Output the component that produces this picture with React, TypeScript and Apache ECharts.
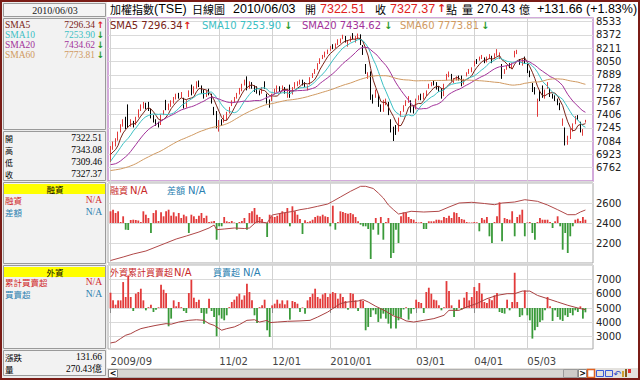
import React, { useEffect, useRef } from 'react';
import * as echarts from 'echarts';

// ---------- data ----------
const priorCloses = [
  6780, 6820, 6890, 6910, 6850, 6760, 6700, 6650, 6580, 6520, 6470, 6430, 6480, 6520, 6560, 6432,
  6400, 6460, 6520, 6480, 6420, 6380, 6410, 6480, 6560, 6620, 6700, 6750, 6810, 6790, 6860, 6900, 6920, 6880, 6940, 6960, 6990, 7010,
  7040, 7020, 6980, 6960, 6900, 6850, 6820, 6760, 6700, 6600, 6480, 6560, 6620, 6700, 6760, 6820, 6880, 6900, 6960, 6920, 6826,
];

const opens = [
  6840, 7000, 7040, 7110, 7200, 7280, 7360, 7490, 7280, 7300,
  7300, 7380, 7470, 7500, 7530, 7540, 7460, 7370, 7320, 7300,
  7290, 7420, 7520, 7470, 7520, 7560, 7610, 7640, 7630, 7600,
  7500, 7630, 7760, 7680, 7740, 7780, 7740, 7690, 7640, 7700,
  7640, 7480, 7440, 7240, 7320, 7330, 7360, 7440, 7520, 7570,
  7610, 7670, 7700, 7780, 7830, 7740, 7790, 7740, 7720, 7690,
  7680, 7780, 7650, 7570, 7580, 7670, 7700, 7720, 7710, 7720,
  7650, 7750, 7660, 7740, 7760, 7790, 7800, 7790, 7710, 7780,
  7860, 7920, 7960, 8030, 8090, 8110, 8160, 8200, 8230, 8220,
  8260, 8290, 8330, 8340, 8250, 8300, 8350, 8300, 8350, 8375,
  8240, 8010, 7850, 7920, 7640, 7625, 7640, 7500, 7460, 7560,
  7550, 7340, 7230, 7260, 7220, 7400, 7460, 7530, 7560, 7570,
  7500, 7480, 7600, 7630, 7600, 7640, 7730, 7760, 7800, 7790,
  7730, 7720, 7640, 7830, 7870, 7880, 7810, 7830, 7860, 7860,
  7780, 7880, 7910, 7940, 8000, 8060, 8070, 8090, 8090, 8050,
  8100, 8100, 8090, 8140, 8100, 8010, 7910, 7960, 8010, 7990,
  8110, 8150, 8070, 8020, 8080, 8000, 7920, 7780, 7720, 7402,
  7690, 7750, 7620, 7730, 7720, 7650, 7630, 7580, 7530, 7290,
  7240, 7060, 7180, 7250, 7300, 7380, 7300, 7180, 7322.51,
];
const highs = [
  7025, 7080, 7120, 7200, 7290, 7350, 7380, 7530, 7350, 7330,
  7380, 7470, 7530, 7560, 7550, 7560, 7480, 7400, 7350, 7320,
  7410, 7460, 7585, 7540, 7580, 7620, 7660, 7670, 7680, 7610,
  7580, 7700, 7770, 7750, 7810, 7820, 7760, 7710, 7700, 7720,
  7660, 7500, 7450, 7340, 7350, 7400, 7440, 7500, 7580, 7620,
  7670, 7730, 7780, 7830, 7870, 7810, 7800, 7760, 7750, 7700,
  7740, 7810, 7660, 7590, 7660, 7720, 7760, 7750, 7760, 7740,
  7720, 7770, 7740, 7800, 7810, 7830, 7830, 7800, 7760, 7860,
  7910, 7960, 8030, 8090, 8130, 8170, 8195, 8240, 8260, 8270,
  8320, 8330, 8375, 8360, 8310, 8355, 8395, 8360, 8390, 8380,
  8250, 8020, 7920, 7930, 7650, 7710, 7650, 7530, 7585, 7600,
  7560, 7350, 7260, 7280, 7370, 7450, 7520, 7580, 7630, 7580,
  7520, 7600, 7640, 7660, 7670, 7700, 7780, 7800, 7820, 7800,
  7750, 7730, 7780, 7900, 7929, 7900, 7850, 7870, 7880, 7880,
  7840, 7920, 7960, 7980, 8060, 8080, 8110, 8130, 8100, 8110,
  8140, 8120, 8150, 8200, 8160, 8020, 7960, 8000, 8030, 8030,
  8180, 8192, 8080, 8080, 8110, 8020, 7940, 7790, 7740, 7600,
  7700, 7760, 7710, 7800, 7730, 7660, 7640, 7600, 7550, 7360,
  7250, 7150, 7240, 7300, 7390, 7400, 7320, 7230, 7343.08,
];
const lows = [
  6830, 6980, 7020, 7090, 7190, 7260, 7230, 7250, 7260, 7250,
  7280, 7370, 7450, 7480, 7470, 7450, 7360, 7310, 7270, 7250,
  7280, 7400, 7460, 7460, 7500, 7540, 7590, 7600, 7610, 7480,
  7490, 7620, 7640, 7660, 7720, 7740, 7660, 7600, 7620, 7640,
  7540, 7400, 7240, 7200, 7270, 7310, 7340, 7420, 7510, 7550,
  7600, 7650, 7690, 7760, 7700, 7720, 7720, 7680, 7660, 7640,
  7660, 7720, 7540, 7490, 7570, 7650, 7680, 7680, 7690, 7660,
  7610, 7610, 7650, 7720, 7750, 7770, 7760, 7740, 7700, 7770,
  7850, 7900, 7950, 8020, 8080, 8100, 8140, 8180, 8200, 8210,
  8250, 8270, 8320, 8280, 8230, 8290, 8320, 8280, 8330, 8250,
  8130, 7900, 7840, 7585, 7540, 7610, 7500, 7440, 7440, 7520,
  7400, 7190, 7086, 7160, 7200, 7380, 7440, 7510, 7550, 7430,
  7420, 7470, 7580, 7580, 7590, 7630, 7720, 7750, 7760, 7710,
  7680, 7600, 7630, 7820, 7860, 7810, 7790, 7820, 7820, 7750,
  7770, 7870, 7900, 7920, 7990, 8020, 8060, 8080, 8030, 8040,
  8080, 8030, 8080, 8120, 8080, 7840, 7900, 7950, 7970, 7970,
  8100, 8140, 8010, 8000, 8020, 7910, 7860, 7680, 7650, 7380,
  7570, 7610, 7600, 7720, 7620, 7600, 7570, 7520, 7460, 7270,
  7032, 7040, 7110, 7200, 7290, 7340, 7190, 7150, 7309.46,
];
const closes = [
  7010, 7050, 7100, 7180, 7260, 7330, 7250, 7270, 7330, 7290,
  7360, 7460, 7500, 7520, 7500, 7470, 7380, 7330, 7300, 7270,
  7400, 7440, 7470, 7520, 7560, 7600, 7630, 7610, 7650, 7490,
  7560, 7690, 7650, 7720, 7790, 7760, 7680, 7610, 7680, 7660,
  7550, 7420, 7250, 7330, 7300, 7380, 7420, 7480, 7560, 7600,
  7660, 7710, 7760, 7810, 7720, 7790, 7750, 7700, 7680, 7660,
  7720, 7730, 7560, 7510, 7650, 7700, 7740, 7700, 7740, 7680,
  7700, 7630, 7720, 7780, 7800, 7810, 7780, 7750, 7750, 7850,
  7900, 7940, 8020, 8080, 8110, 8150, 8188, 8207, 8211, 8250,
  8290, 8300, 8350, 8300, 8290, 8340, 8330, 8340, 8370, 8260,
  8140, 7920, 7900, 7600, 7560, 7700, 7520, 7450, 7530, 7580,
  7420, 7210, 7180, 7190, 7360, 7430, 7500, 7560, 7620, 7450,
  7440, 7585, 7620, 7600, 7650, 7680, 7760, 7790, 7780, 7720,
  7700, 7620, 7760, 7880, 7910, 7820, 7830, 7850, 7830, 7760,
  7820, 7910, 7940, 7960, 8040, 8040, 8090, 8110, 8040, 8080,
  8120, 8050, 8140, 8160, 8140, 7860, 7950, 7980, 7990, 8010,
  8160, 8170, 8030, 8060, 8040, 7920, 7880, 7700, 7676, 7580,
  7590, 7630, 7700, 7780, 7640, 7620, 7590, 7540, 7480, 7345,
  7100, 7130, 7200, 7282, 7374, 7373, 7211.6, 7195.71, 7327.37,
];

// 融資 daily change bars (relative to the 2400 base line)
const marginBars = [
  117, 133, 100, 117, 10, 67, -67, -70, 30, 33,
  30, 25, 10, 117, 83, 50, -100, 100, 127, 20,
  107, 67, 117, 133, 73, 107, 67, 100, 50, 83,
  67, -100, 83, 67, 40, 73, 100, 50, 73, 10,
  15, 20, -167, -33, -33, 60, 17, 10, 20, 5,
  -67, 10, 20, 50, -67, 100, 117, 150, 83, 60,
  40, 10, -140, 83, 67, 60, 73, 100, 117, 100,
  150, -33, 167, 117, 83, 40, -110, 27, 10, 17,
  33, 60, 73, 67, 83, 67, 60, -33, 173, -67,
  10, 117, 110, 100, 93, 100, 87, 60, 17, -17,
  -33, -33, -60, -360, -67, 50, -117, 60, -167, 10,
  50, -350, -300, -67, -200, 67, 107, 100, 60, 40,
  33, 10, 5, 10, -60, -60, 17, 17, 17, 33,
  33, 27, 60, 50, 73, 50, 107, 100, 60, 40,
  33, 10, 5, 5, 10, 7, -83, 50, 33, 60,
  -133, -200, 10, 67, 207, -183, 50, 40, 33, 117,
  -133, 60, 83, 133, -133, 5, 10, -100, -167, 10,
  50, 33, 33, 33, 10, -50, 17, 67, -33, -267,
  -100, -300, -133, -33, 33, 43, 20, 60, 33,
];
// 融資 balance line: [trading-day index, value]
const marginLine: [number, number][] = [
  [0, 2025], [5, 2060], [9, 2090], [14, 2120], [18, 2160], [22, 2200], [26, 2240], [30, 2270],
  [35, 2310], [39, 2350], [41, 2380], [42, 2333], [45, 2340], [49, 2350], [53, 2345], [55, 2350],
  [58, 2417], [62, 2400], [64, 2480], [68, 2500], [72, 2515], [75, 2533], [78, 2545], [82, 2567],
  [86, 2590], [88, 2617], [91, 2660], [95, 2717], [99, 2767], [101, 2767], [104, 2745], [106, 2700],
  [108, 2650], [110, 2580], [112, 2533], [114, 2490], [116, 2500], [119, 2517], [124, 2510], [130, 2517],
  [134, 2560], [138, 2600], [143, 2607], [148, 2595], [152, 2583], [155, 2600], [160, 2610], [164, 2633],
  [169, 2617], [173, 2580], [177, 2533], [181, 2483], [184, 2483], [186, 2510], [188, 2530],
];

// 外資 daily net buy/sell bars (relative to the 5000 base line)
const foreignBars = [
  1067, 534, 232, 534, 534, 1810, 766, 2274, 766, -209,
  998, 1114, 1346, 534, -162, 60, 232, -278, -116, 50,
  1624, 1276, 1044, -1276, -742, 534, 120, 418, 60, -209,
  -348, 1044, 1972, 719, 418, 580, -348, -1090, -394, 650,
  -209, -626, -1972, -510, -742, -858, -510, 60, 418, 580,
  812, 998, 580, 882, 1694, 1114, 534, -510, -1044, 60,
  186, 580, -1554, -2018, 186, 302, 580, 302, 534, 255,
  534, -812, 487, 418, 302, -278, 40, -394, 534, 766,
  998, 1346, 766, 650, 951, 1044, 766, 998, 1114, 1044,
  650, 998, 766, 487, -116, 1044, 998, 534, -209, 580,
  487, -1554, -1322, -626, -162, -440, -974, -742, -394, -742,
  -1090, -1438, -510, -1438, -858, -672, -100, 50, -812, -394,
  -80, 580, 418, 348, -348, 1114, 1415, 998, 580, 534,
  186, -162, 60, 1879, 1183, 186, -626, -210, 580, -116,
  719, 1114, 534, 766, 1462, 1183, 1740, 998, 418, 350,
  650, 534, 882, 1044, -278, -348, -394, 580, -162, 418,
  2459, 418, -626, -510, 1230, -510, -858, -2134, -1554, -1322,
  -974, -858, -162, 766, 116, -905, -162, -626, -812, -905,
  -510, -626, -348, -510, -162, -278, 116, -742, -300,
];
// 外資累計買賣超 line: [trading-day index, value]
const foreignLine: [number, number][] = [
  [0, 2560], [2, 2630], [4, 2870], [6, 3100], [8, 3210], [10, 3400], [12, 3560], [15, 3680],
  [18, 3790], [20, 3850], [22, 3910], [24, 3870], [27, 4020], [31, 4140], [34, 4180], [37, 4140],
  [39, 3910], [41, 3790], [44, 3450], [46, 3560], [49, 3680], [51, 3840], [54, 4140], [57, 4180],
  [59, 4020], [62, 4140], [63, 3980], [66, 4020], [70, 4070], [75, 4100], [79, 4140], [82, 4370],
  [86, 4720], [88, 4960], [91, 5310], [94, 5420], [98, 5490], [100, 5580], [102, 5420], [105, 5120],
  [107, 4950], [109, 4770], [112, 4450], [115, 4280], [117, 4100], [120, 4020], [124, 4140], [128, 4260],
  [132, 4490], [134, 4840], [138, 4840], [141, 5070], [145, 5310], [149, 5650], [153, 5880], [157, 6000],
  [160, 6000], [163, 6180], [166, 6180], [169, 5880], [173, 5650], [177, 5420], [181, 5190], [185, 5000],
  [188, 4880],
];

const holidays = ['2009/10/09', '2010/01/01', '2010/02/11', '2010/02/12', '2010/02/15', '2010/02/16',
  '2010/02/17', '2010/02/18', '2010/02/19', '2010/04/05'];
const makeupDays = ['2010/02/06'];
const xTickDates = ['2009/09/01', '2009/11/02', '2009/12/01', '2010/01/04', '2010/03/01', '2010/04/01', '2010/05/03'];
const xTickLabels = ['2009/09', '11/02', '12/01', '2010/01', '03/01', '04/01', '05/03'];

const smaPeriods = [5, 10, 20, 60];
const smaNames = ['SMA5', 'SMA10', 'SMA20', 'SMA60'];
const smaValues = ['7296.34', '7253.90', '7434.62', '7773.81'];
const smaUp = [true, false, false, false];

const ohlcLabels = ['開', '高', '低', '收'];
const ohlcValues = ['7322.51', '7343.08', '7309.46', '7327.37'];

// ---------- helpers ----------
function pad(n: number) { return n < 10 ? '0' + n : '' + n; }
function buildDates(): string[] {
  const out: string[] = [];
  const d = new Date(2009, 8, 1);
  const end = new Date(2010, 5, 3);
  while (d <= end) {
    const s = d.getFullYear() + '/' + pad(d.getMonth() + 1) + '/' + pad(d.getDate());
    const wd = d.getDay();
    if ((wd !== 0 && wd !== 6 && holidays.indexOf(s) < 0) || makeupDays.indexOf(s) >= 0) out.push(s);
    d.setDate(d.getDate() + 1);
  }
  return out;
}

const SMA_COLORS = ['#7a2418', '#3cc0c4', '#a2329a', '#d09a62'];
const RED = '#e23a3a';
const GREEN = '#3a9a3a';
const CJK = '"Noto Sans CJK TC", "Noto Sans CJK SC", sans-serif';
const SERIF = '"Liberation Serif", "DejaVu Serif", serif';
const SANS = '"DejaVu Sans", sans-serif';
const ARIAL = '"Liberation Sans", Arial, sans-serif';

function T(x: number, y: number, text: string, o: any = {}) {
  const align = o.align || 'left';
  const size = o.size || 10;
  return {
    type: 'text', x, y, silent: true, z: o.z || 20,
    style: {
      text, fill: o.fill || '#000', fontSize: size, fontFamily: o.font || SERIF,
      fontWeight: o.weight || 'normal', align, verticalAlign: 'middle',
      textAlign: align, textVerticalAlign: 'middle', lineHeight: o.lh || size,
    },
  };
}
function R(x: number, y: number, w: number, h: number, fill: string, stroke?: string, lw = 1, z = 5) {
  return {
    type: 'rect', silent: true, z,
    shape: { x, y, width: w, height: h },
    style: { fill, stroke: stroke || null, lineWidth: stroke ? lw : 0 },
  };
}

export default function App() {
  const ref = useRef<HTMLDivElement>(null);

  useEffect(() => {
    if (!ref.current) return;
    const chart = echarts.init(ref.current, undefined, { renderer: 'svg' });

    const dates = buildDates();
    const cats = ['pad0', ...dates, 'pad1', 'pad2', 'pad3'];
    const tickSet = new Set<number>();
    const labelMap: Record<string, string> = {};
    xTickDates.forEach((d, k) => {
      const idx = cats.indexOf(d);
      if (idx >= 0) tickSet.add(idx);
      labelMap[d] = xTickLabels[k];
    });
    const isTick = (i: number) => tickSet.has(i);

    const candleData = closes.map((c, i) => [i + 1, opens[i], c, lows[i], highs[i]]);
    const allCloses = priorCloses.concat(closes);
    const p = priorCloses.length;
    const smaSeries = smaPeriods.map((n, k) => {
      const data = closes.map((_, i) => {
        let s = 0;
        for (let j = p + i - n + 1; j <= p + i; j++) s += allCloses[j];
        return [i + 1, +(s / n).toFixed(2)];
      });
      return {
        type: 'line', name: smaNames[k], xAxisIndex: 0, yAxisIndex: 0, data,
        showSymbol: false, symbol: 'none', silent: true,
        lineStyle: { color: SMA_COLORS[k], width: 1 }, z: 3,
      };
    });

    const barColor = (params: any) => (params.value[1] >= 0 ? RED : GREEN);

    const xBase = (gridIndex: number, showLabels: boolean) => ({
      type: 'category', gridIndex, data: cats, boundaryGap: false,
      axisLine: { show: false },
      axisTick: showLabels
        ? { show: true, interval: (i: number) => isTick(i), length: 5, lineStyle: { color: '#8a8a8a' } }
        : { show: false },
      axisLabel: showLabels
        ? {
            show: true, interval: (i: number) => isTick(i), align: 'left', margin: 7,
            fontFamily: SANS, fontSize: 10, color: '#444',
            formatter: (v: string) => labelMap[v] || '',
          }
        : { show: false },
      splitLine: { show: true, interval: (i: number) => isTick(i), lineStyle: { color: '#d2d2d2', width: 1 } },
    });

    const yLabel = {
      fontFamily: SANS, fontSize: 10, color: '#222', margin: 3, showMinLabel: false, showMaxLabel: false,
      formatter: (v: number) => String(v),
    };

    const graphics: any[] = [];
    // left panel
    graphics.push(R(2, 2, 105, 376, '#ececec', undefined, 0, 1));
    graphics.push(R(3.5, 3.5, 102, 13, '#f4f4f4', '#9a9a9a'));
    graphics.push(R(3.5, 18.5, 102, 111, '#f2f2f2', '#9a9a9a'));
    graphics.push(R(3.5, 131.5, 102, 49, '#f2f2f2', '#9a9a9a'));
    graphics.push(R(3.5, 182.5, 102, 81, '#f2f2f2', '#9a9a9a'));
    graphics.push(R(3.5, 265.5, 102, 83, '#f2f2f2', '#9a9a9a'));
    graphics.push(R(3.5, 350.5, 102, 25, '#f2f2f2', '#9a9a9a'));
    graphics.push(R(4, 184, 101, 10, '#ffff00', undefined, 0, 6));
    graphics.push(R(4, 267, 101, 10, '#ffff00', undefined, 0, 6));
    graphics.push(T(55, 10.5, '2010/06/03', { align: 'center', size: 10, fill: '#222' }));
    const smaY = [24.5, 34.5, 44.5, 55];
    smaNames.forEach((nm, k) => {
      graphics.push(T(5, smaY[k], nm, { fill: SMA_COLORS[k], size: 9.5 }));
      graphics.push(T(95, smaY[k], smaValues[k], { fill: SMA_COLORS[k], size: 9.5, align: 'right' }));
      graphics.push(T(100.5, smaY[k], smaUp[k] ? '↑' : '↓', {
        fill: smaUp[k] ? '#e02020' : '#2a9a2a', size: 9, font: SANS, weight: 'bold', align: 'center',
      }));
    });
    const ohlcY = [138, 150, 162, 174];
    ohlcLabels.forEach((lb, k) => {
      graphics.push(T(5, ohlcY[k], lb, { font: CJK, size: 8, lh: 8 }));
      graphics.push(T(102, ohlcY[k], ohlcValues[k], { size: 9.5, align: 'right', lh: 9.5 }));
    });

    graphics.push(T(55, 189, '融資', { font: CJK, size: 8.5, align: 'center' }));
    graphics.push(T(5, 200, '融資', { font: CJK, size: 8.5, fill: '#d02828' }));
    graphics.push(T(102, 200, 'N/A', { size: 9.5, fill: '#d02828', align: 'right' }));
    graphics.push(T(5, 212, '差額', { font: CJK, size: 8.5, fill: '#2a80b0' }));
    graphics.push(T(102, 212, 'N/A', { size: 9.5, fill: '#2a80b0', align: 'right' }));
    graphics.push(T(55, 272, '外資', { font: CJK, size: 8.5, align: 'center' }));
    graphics.push(T(5, 281.5, '累計買賣超', { font: CJK, size: 8.5, fill: '#d02828' }));
    graphics.push(T(102, 281.5, 'N/A', { size: 9.5, fill: '#d02828', align: 'right' }));
    graphics.push(T(5, 293.5, '買賣超', { font: CJK, size: 8.5, fill: '#2a80b0' }));
    graphics.push(T(102, 293.5, 'N/A', { size: 9.5, fill: '#2a80b0', align: 'right' }));
    graphics.push(T(5, 356.5, '漲跌', { font: CJK, size: 8.5 }));
    graphics.push(T(102, 356.5, '131.66', { size: 9.5, align: 'right' }));
    graphics.push(T(5, 368.5, '量', { font: CJK, size: 8.5 }));
    graphics.push(T(102, 368.5, '270.43億', { size: 9.5, align: 'right' }));

    // header
    const hy = 8.5;
    graphics.push(T(110, hy, '加權指數', { font: CJK, size: 11 }));
    graphics.push(T(154, hy, '(TSE)', { font: ARIAL, size: 12.5 }));
    graphics.push(T(192, hy, '日線圖', { font: CJK, size: 11 }));
    graphics.push(T(233, hy, '2010/06/03', { font: ARIAL, size: 12.5 }));
    graphics.push(T(305, hy, '開', { font: CJK, size: 11 }));
    graphics.push(T(320, hy, '7322.51', { font: ARIAL, size: 12.5, fill: '#e02020' }));
    graphics.push(T(375, hy, '收', { font: CJK, size: 11 }));
    graphics.push(T(390, hy, '7327.37', { font: ARIAL, size: 12.5, fill: '#e02020' }));
    graphics.push(T(437, hy, '↑', { font: SANS, size: 11, fill: '#e02020', weight: 'bold' }));
    graphics.push(T(446, hy, '點', { font: CJK, size: 11 }));
    graphics.push(T(462, hy, '量', { font: CJK, size: 11 }));
    graphics.push(T(477, hy, '270.43', { font: ARIAL, size: 12.5 }));
    graphics.push(T(519, hy, '億', { font: CJK, size: 11 }));
    graphics.push(T(537, hy, '+131.66 (+1.83%)', { font: ARIAL, size: 12.5 }));

    // price panel legend
    const legX = [110, 202, 302, 400];
    const arrowX = [183, 284, 384, 481];
    smaNames.forEach((nm, k) => {
      graphics.push(T(legX[k], 25.5, nm + ' ' + smaValues[k], { font: SANS, size: 10, fill: SMA_COLORS[k], z: 30 }));
      graphics.push(T(arrowX[k], 25.5, smaUp[k] ? '↑' : '↓', {
        font: SANS, size: 10, weight: 'bold', fill: smaUp[k] ? '#e02020' : '#2a9a2a', z: 30,
      }));
    });
    // margin panel legend
    graphics.push(T(110, 190.5, '融資', { font: CJK, size: 9, fill: '#c82828', z: 30 }));
    graphics.push(T(130, 190.5, 'N/A', { font: SANS, size: 10, fill: '#c82828', z: 30 }));
    graphics.push(T(167, 190.5, '差額', { font: CJK, size: 9, fill: '#2a80b0', z: 30 }));
    graphics.push(T(188, 190.5, 'N/A', { font: SANS, size: 10, fill: '#2a80b0', z: 30 }));
    // foreign panel legend
    graphics.push(T(110, 272.5, '外資累計買賣超', { font: CJK, size: 9, fill: '#c82828', z: 30 }));
    graphics.push(T(174, 272.5, 'N/A', { font: SANS, size: 10, fill: '#c82828', z: 30 }));
    graphics.push(T(213, 272.5, '買賣超', { font: CJK, size: 9, fill: '#2a80b0', z: 30 }));
    graphics.push(T(243, 272.5, 'N/A', { font: SANS, size: 10, fill: '#2a80b0', z: 30 }));

    // scrollbar + icons
    graphics.push(R(107, 368, 531, 10, '#e4e2de', undefined, 0, 4));
    graphics.push(R(108.5, 369.5, 470, 8, '#d8d6d2', '#b0b0b0'));
    graphics.push(R(108.5, 369.5, 9, 8, '#ffffff', '#8a8a8a', 1, 7));
    graphics.push(T(113, 373.5, '<', { font: SANS, size: 8, weight: 'bold', align: 'center' }));
    graphics.push(R(563.5, 369.5, 14, 8, '#cfcdc9', '#9a9a9a', 1, 7));
    graphics.push(R(578.5, 369.5, 8, 8, '#ffffff', '#8a8a8a', 1, 7));
    graphics.push(T(582.5, 373.5, '>', { font: SANS, size: 8, weight: 'bold', align: 'center' }));
    graphics.push(R(587.5, 369.5, 7, 8, '#ffffff', '#e06020', 1.5, 7));
    graphics.push(R(596.5, 370.5, 7, 6, 'none', '#3a5ad8', 1, 7));
    graphics.push(R(605.5, 370.5, 7, 6, 'none', '#3a5ad8', 1, 7));
    graphics.push(T(617, 373.5, '↶', { font: SANS, size: 9, fill: '#2a4ac8', align: 'center' }));
    graphics.push(R(622, 371, 2, 6, '#d0a030', undefined, 0, 7));
    graphics.push(R(625, 369, 2, 8, '#806020', undefined, 0, 7));
    graphics.push(R(628, 369, 3, 4, '#e03030', undefined, 0, 7));
    // outer frame
    graphics.push({
      type: 'rect', silent: true, z: 100,
      shape: { x: 1, y: 1, width: 638, height: 378 },
      style: { fill: 'none', stroke: '#7a1c16', lineWidth: 2 },
    });

    const option: any = {
      animation: false,
      backgroundColor: '#ffffff',
      grid: [
        { left: 108, right: 47, top: 18, height: 163, show: true, backgroundColor: '#ffffff', borderColor: '#c58fcf', borderWidth: 1.5 },
        { left: 108, right: 47, top: 183, height: 80, show: true, backgroundColor: '#ffffff', borderColor: '#a6a6a6', borderWidth: 1 },
        { left: 108, right: 47, top: 265, height: 84, show: true, backgroundColor: '#ffffff', borderColor: '#a6a6a6', borderWidth: 1 },
      ],
      xAxis: [xBase(0, false), xBase(1, false), xBase(2, true)],
      yAxis: [
        {
          type: 'value', gridIndex: 0, position: 'right', min: 6601, max: 8578, interval: 161,
          axisLine: { show: false }, axisTick: { show: false }, axisLabel: yLabel,
          splitLine: { show: true, lineStyle: { color: '#dadada' } },
        },
        {
          type: 'value', gridIndex: 1, position: 'right', min: 2000, max: 2800, interval: 200,
          axisLine: { show: false }, axisTick: { show: false }, axisLabel: yLabel,
          splitLine: { show: true, lineStyle: { color: '#dadada' } },
        },
        { type: 'value', gridIndex: 1, show: false, min: -400, max: 400, splitLine: { show: false } },
        {
          type: 'value', gridIndex: 2, position: 'right', min: 2140, max: 8000, splitNumber: 5,
          minInterval: 1000, maxInterval: 1000,
          axisLine: { show: false }, axisTick: { show: false }, axisLabel: yLabel,
          splitLine: { show: true, lineStyle: { color: '#dadada' } },
        },
        { type: 'value', gridIndex: 2, show: false, min: -2860, max: 3000, splitLine: { show: false } },
      ],
      series: [
        {
          type: 'candlestick', xAxisIndex: 0, yAxisIndex: 0, data: candleData,
          encode: { x: 0, y: [1, 2, 3, 4] }, barWidth: 1.2, silent: true,
          itemStyle: { color: RED, color0: '#000000', borderColor: RED, borderColor0: '#000000', borderWidth: 1 },
          z: 2,
        },
        ...smaSeries,
        {
          type: 'bar', xAxisIndex: 1, yAxisIndex: 2, barWidth: 1.8, silent: true,
          data: marginBars.map((v, i) => [i + 1, v]), itemStyle: { color: barColor },
        },
        {
          type: 'line', xAxisIndex: 1, yAxisIndex: 1, showSymbol: false, symbol: 'none', silent: true,
          data: marginLine.map(([i, v]) => [i + 1, v]), lineStyle: { color: '#b04848', width: 1 }, z: 4,
        },
        {
          type: 'bar', xAxisIndex: 2, yAxisIndex: 4, barWidth: 1.8, silent: true,
          data: foreignBars.map((v, i) => [i + 1, v]), itemStyle: { color: barColor },
        },
        {
          type: 'line', xAxisIndex: 2, yAxisIndex: 3, showSymbol: false, symbol: 'none', silent: true,
          data: foreignLine.map(([i, v]) => [i + 1, v]), lineStyle: { color: '#a84040', width: 1 }, z: 4,
        },
      ],
      graphic: { elements: graphics },
    };

    chart.setOption(option);
    return () => chart.dispose();
  }, []);

  return <div ref={ref} style={{ position: 'fixed', left: 0, top: 0, width: 640, height: 380 }} />;
}
